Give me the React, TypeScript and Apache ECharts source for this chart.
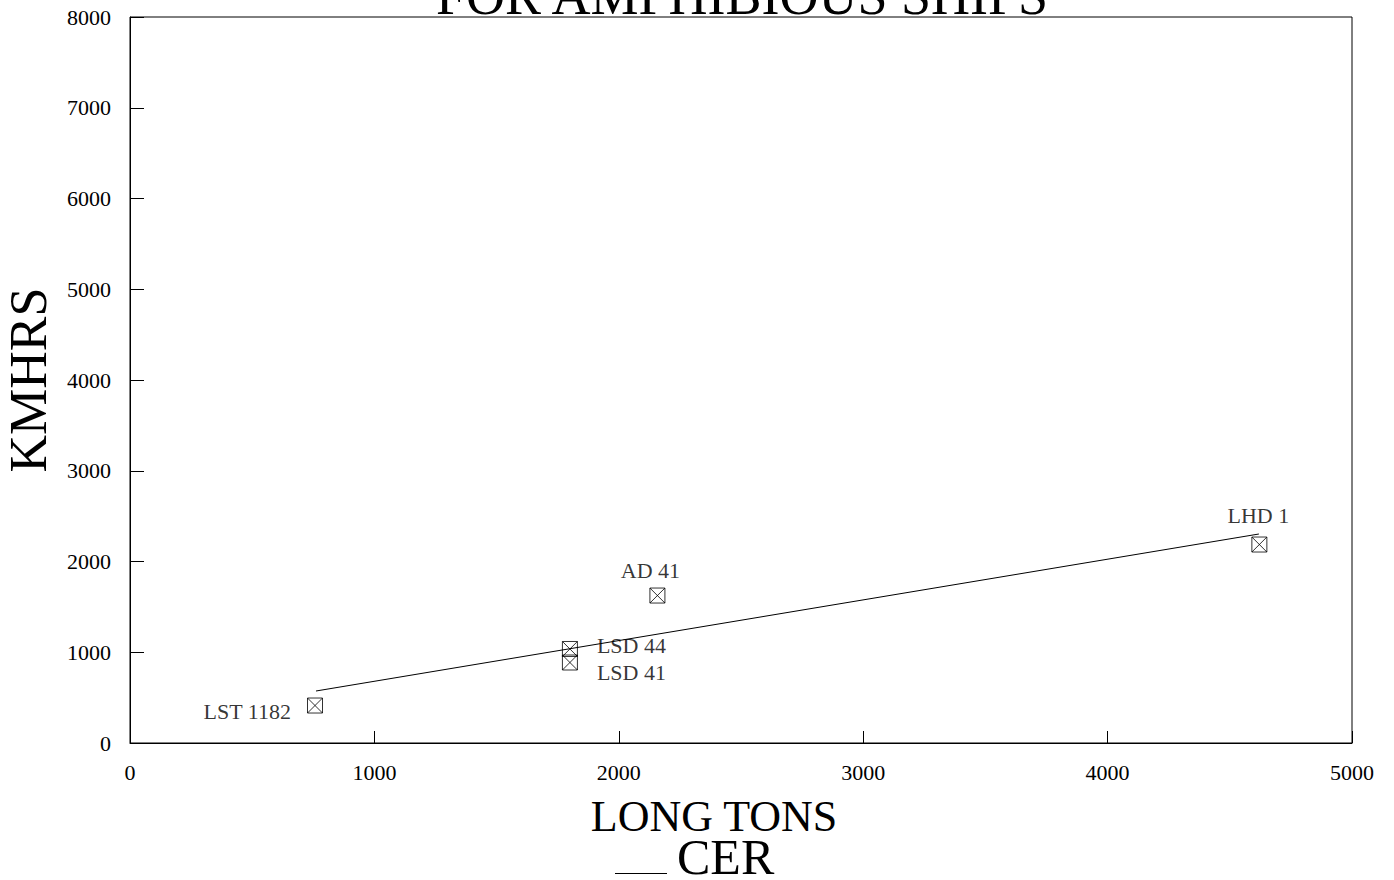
import React, { useEffect, useRef } from "react";
import * as echarts from "echarts";

const titleText = "FOR AMPHIBIOUS SHIPS";
const xAxisName = "LONG TONS";
const yAxisName = "KMHRS";
const seriesName = "CER";

const shipNames = ["LST 1182", "LSD 44", "LSD 41", "AD 41", "LHD 1"];
const longTons = [757, 1800, 1800, 2158, 4621];
const kmhrs = [413, 1036, 887, 1625, 2187];

const trendX = [761, 4619];
const trendY = [573, 2303];

const FONT = "Liberation Serif";

const labelCfg: Record<string, any> = {
  "LST 1182": { position: "left", distance: 16, offset: [0, 6] },
  "LSD 44": { position: "right", distance: 19, offset: [0, -3] },
  "LSD 41": { position: "right", distance: 19, offset: [0, 10] },
  "AD 41": { position: "top", distance: 6, offset: [-7, 0] },
  "LHD 1": { position: "top", distance: 10, offset: [-1, 0] },
};

const markerPath = "path://M0,0H14V14H0Z M0,0L14,14 M14,0L0,14";

export default function App() {
  const ref = useRef<HTMLDivElement>(null);
  useEffect(() => {
    if (!ref.current) return;
    const chart = echarts.init(ref.current, undefined, { renderer: "svg" });
    const pts = shipNames.map((n, i) => ({
      name: n,
      value: [longTons[i], kmhrs[i]],
      label: { show: true, formatter: n, ...labelCfg[n] },
    }));
    chart.setOption({
      animation: false,
      backgroundColor: "#ffffff",
      textStyle: { fontFamily: FONT, color: "#000" },
      title: {
        text: titleText,
        left: 737,
        top: -36,
        textAlign: "center",
        textStyle: { fontFamily: FONT, fontSize: 54, fontWeight: "normal", color: "#000" },
      },
      legend: {
        data: [seriesName],
        left: 610,
        top: 827,
        icon: "path://M0,0L52,0L52,0.01L0,0.01Z M0,33L52,33L52,34L0,34Z",
        itemWidth: 52,
        itemHeight: 34,
        textStyle: { fontFamily: FONT, fontSize: 50, color: "#000", padding: [0, 0, 0, 5] },
      },
      grid: {
        left: 130,
        right: 42,
        top: 17,
        bottom: 137,
        outerBoundsMode: "none",
        containLabel: false,
        show: true,
        borderColor: "#000",
        borderWidth: 1,
        backgroundColor: "transparent",
      },
      xAxis: {
        type: "value",
        min: 0,
        max: 5000,
        interval: 1000,
        name: xAxisName,
        nameLocation: "middle",
        nameGap: 51,
        nameTextStyle: { fontFamily: FONT, fontSize: 44, color: "#000", padding: [0, 54, 0, 0] },
        axisLine: { show: true, lineStyle: { color: "#000", width: 1 } },
        axisTick: { show: true, inside: true, length: 12, lineStyle: { color: "#000" } },
        axisLabel: {
          fontFamily: FONT,
          fontSize: 22,
          color: "#000",
          margin: 18,
          formatter: (v: number) => String(v),
        },
        splitLine: { show: false },
      },
      yAxis: {
        type: "value",
        min: 0,
        max: 8000,
        interval: 1000,
        name: yAxisName,
        nameLocation: "middle",
        nameRotate: 90,
        nameGap: 76,
        nameTextStyle: { fontFamily: FONT, fontSize: 52, color: "#000" },
        axisLine: { show: true, lineStyle: { color: "#000", width: 1 } },
        axisTick: { show: true, inside: true, length: 14, lineStyle: { color: "#000" } },
        axisLabel: {
          fontFamily: FONT,
          fontSize: 22,
          color: "#000",
          margin: 19,
          formatter: (v: number) => String(v),
        },
        splitLine: { show: false },
      },
      series: [
        {
          name: seriesName,
          type: "line",
          data: trendX.map((x, i) => [x, trendY[i]]),
          symbol: "none",
          lineStyle: { color: "#000", width: 1 },
          itemStyle: { color: "#000" },
          z: 2,
        },
        {
          name: "Ships",
          type: "scatter",
          data: pts,
          symbol: markerPath,
          symbolSize: 15,
          itemStyle: { color: "rgba(0,0,0,0)", borderColor: "#000", borderWidth: 1 },
          label: { fontFamily: FONT, fontSize: 22, color: "#000" },
          z: 3,
        },
      ],
    });
    return () => chart.dispose();
  }, []);
  return (
    <div
      ref={ref}
      style={{ position: "absolute", left: 0, top: 0, width: 1394, height: 880, background: "#fff" }}
    />
  );
}
